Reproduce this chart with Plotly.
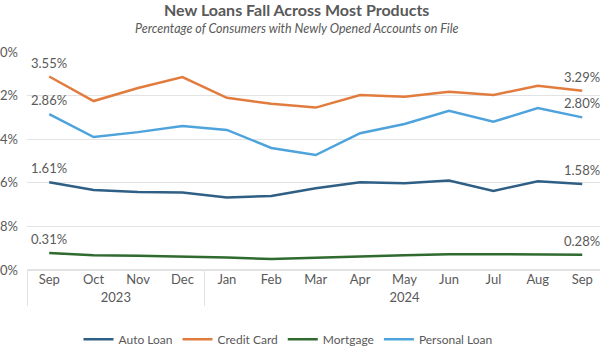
import plotly.graph_objects as go

months = ["Sep", "Oct", "Nov", "Dec", "Jan", "Feb", "Mar", "Apr", "May", "Jun", "Jul", "Aug", "Sep"]
years = ["2023"] * 4 + ["2024"] * 9

auto_loan = [1.61, 1.47, 1.43, 1.42, 1.33, 1.36, 1.50, 1.61, 1.59, 1.64, 1.45, 1.63, 1.58]
credit_card = [3.55, 3.10, 3.34, 3.54, 3.16, 3.05, 2.98, 3.21, 3.18, 3.27, 3.21, 3.38, 3.29]
mortgage = [0.31, 0.27, 0.26, 0.25, 0.23, 0.20, 0.23, 0.25, 0.27, 0.29, 0.29, 0.28, 0.28]
personal_loan = [2.86, 2.44, 2.53, 2.64, 2.57, 2.24, 2.11, 2.51, 2.68, 2.92, 2.72, 2.97, 2.80]

series = [
    ("Auto Loan", auto_loan, "#2f5f84"),
    ("Credit Card", credit_card, "#e27c3e"),
    ("Mortgage", mortgage, "#2f6a2e"),
    ("Personal Loan", personal_loan, "#4ea3dc"),
]

y_ticks = [0, 0.8, 1.6, 2.4, 3.2, 4.0]
y_tick_text = ["0.0%", "0.8%", "1.6%", "2.4%", "3.2%", "4.0%"]

# make repeated month names distinct keys for the multicategory axis (zero-width space)
month_keys = []
seen = {}
for m in months:
    k = seen.get(m, 0)
    month_keys.append(m + "\u200b" * k)
    seen[m] = k + 1
x = [years, month_keys]
gray = "#595959"
font = "Lato"

fig = go.Figure()
for name, vals, color in series:
    fig.add_trace(go.Scatter(x=x, y=vals, name=name, mode="lines",
                             line=dict(color=color, width=2.5)))
    fig.add_annotation(x=[years[0], month_keys[0]], y=vals[0], xref="x", yref="y", text=f"{vals[0]:.2f}%",
                       showarrow=False, yshift=14, font=dict(size=13, color=gray, family=font))
    fig.add_annotation(x=[years[-1], month_keys[-1]], y=vals[-1], xref="x", yref="y", text=f"{vals[-1]:.2f}%",
                       showarrow=False, yshift=14, font=dict(size=13, color=gray, family=font))

fig.add_annotation(x=0.471, y=1.193, xref="paper", yref="paper", yanchor="middle",
                   text="<b>New Loans Fall Across Most Products</b>", showarrow=False,
                   font=dict(size=16, color=gray, family=font))
fig.add_annotation(x=0.471, y=1.108, xref="paper", yref="paper", yanchor="middle",
                   text="<i>Percentage of Consumers with Newly Opened Accounts on File</i>", showarrow=False,
                   font=dict(size=12.5, color=gray, family=font))

fig.update_layout(
    width=600, height=350,
    margin=dict(l=27, r=0, t=52, b=80, autoexpand=False),
    plot_bgcolor="white", paper_bgcolor="white",
    font=dict(family=font, color=gray, size=13),
    showlegend=True,
    legend=dict(orientation="h", x=0.48, xanchor="center", xref="container",
                y=0.031, yanchor="middle", yref="container",
                font=dict(size=12, color=gray, family=font), itemwidth=30),
    xaxis=dict(type="multicategory", range=[-0.5, 12.4], autorange=False, showgrid=False,
               showline=False, ticks="outside", ticklen=4, tickcolor="rgba(0,0,0,0)",
               showdividers=True, automargin=False,
               dividercolor="#e3e3e3", dividerwidth=1,
               tickfont=dict(size=13, color=gray, family=font)),
    yaxis=dict(range=[0, 4.0], tickvals=y_ticks, ticktext=y_tick_text, automargin=False,
               showgrid=True, gridcolor="#e3e3e3", gridwidth=1,
               zeroline=True, zerolinecolor="#e3e3e3", zerolinewidth=1.5,
               showline=False, ticks="", ticklabelstandoff=8,
               tickfont=dict(size=13, color=gray, family=font)),
)

fig.write_html("out.html")
